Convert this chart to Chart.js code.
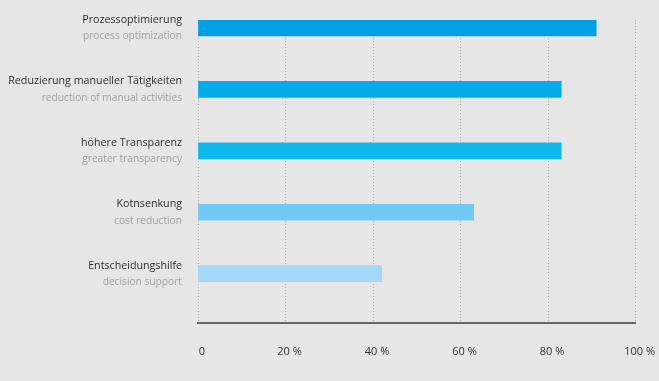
<!DOCTYPE html>
<html>
<head>
<meta charset="utf-8">
<script src="https://cdn.jsdelivr.net/npm/chart.js@4.4.1/dist/chart.umd.min.js"></script>
<style>
  html, body { margin: 0; padding: 0; background: #e6e6e6; }
  #wrap { width: 659px; height: 381px; position: relative; }
</style>
</head>
<body>
<div id="wrap"><canvas id="c"></canvas></div>
<script>
const categories = ['Prozessoptimierung', 'Reduzierung manueller Tätigkeiten', 'höhere Transparenz', 'Kotnsenkung', 'Entscheidungshilfe'];
const subtitles = ['process optimization', 'reduction of manual activities', 'greater transparency', 'cost reduction', 'decision support'];
const values = [91, 83, 83, 63, 42];
const barColors = ['#009ee3', '#00abe8', '#0bb8ee', '#70caf4', '#a0daf7'];
const tickValues = [0, 20, 40, 60, 80, 100];
const tickLabels = ['0', '20 %', '40 %', '60 %', '80 %', '100 %'];

const labelPlugin = {
  id: 'catLabels',
  afterDraw(chart) {
    const ctx = chart.ctx;
    const y = chart.scales.y;
    const xLeft = chart.chartArea.left - 16;
    ctx.save();
    ctx.textAlign = 'right';
    ctx.textBaseline = 'middle';
    categories.forEach((c, i) => {
      const py = y.getPixelForValue(i);
      ctx.font = '10.7px "Open Sans"';
      ctx.fillStyle = '#2e2e2e';
      ctx.fillText(c, xLeft, py - 8);
      ctx.font = '10.2px "Open Sans"';
      ctx.fillStyle = '#a0a0a0';
      ctx.fillText(subtitles[i], xLeft, py + 8.5);
    });
    ctx.restore();
  }
};

new Chart(document.getElementById('c'), {
  type: 'bar',
  data: {
    datasets: [{
      data: values.map((v, i) => ({ x: v, y: i })),
      backgroundColor: barColors,
      barThickness: 16,
      borderWidth: 0
    }]
  },
  options: {
    indexAxis: 'y',
    responsive: true,
    maintainAspectRatio: false,
    animation: false,
    layout: { padding: { top: 20, left: 198, right: 8, bottom: 15 } },
    plugins: { legend: { display: false }, tooltip: { enabled: false } },
    scales: {
      y: {
        type: 'linear',
        reverse: true,
        offset: false,
        min: -0.13,
        max: 4.8,
        display: false
      },
      x: {
        type: 'linear',
        min: 0,
        max: 100,
        afterBuildTicks(scale) { scale.ticks = tickValues.map(v => ({ value: v })); },
        ticks: {
          callback: (v) => tickLabels[tickValues.indexOf(v)],
          color: '#333333',
          font: { family: 'Open Sans', size: 11 },
          padding: 8,
          labelOffset: 4,
          maxRotation: 0
        },
        grid: { color: '#b3b3b3', lineWidth: 1, drawTicks: true, tickLength: 14, tickColor: 'rgba(0,0,0,0)' },
        border: { display: true, color: '#666666', width: 2, dash: [1, 2] }
      }
    }
  },
  plugins: [labelPlugin]
});
</script>
</body>
</html>
